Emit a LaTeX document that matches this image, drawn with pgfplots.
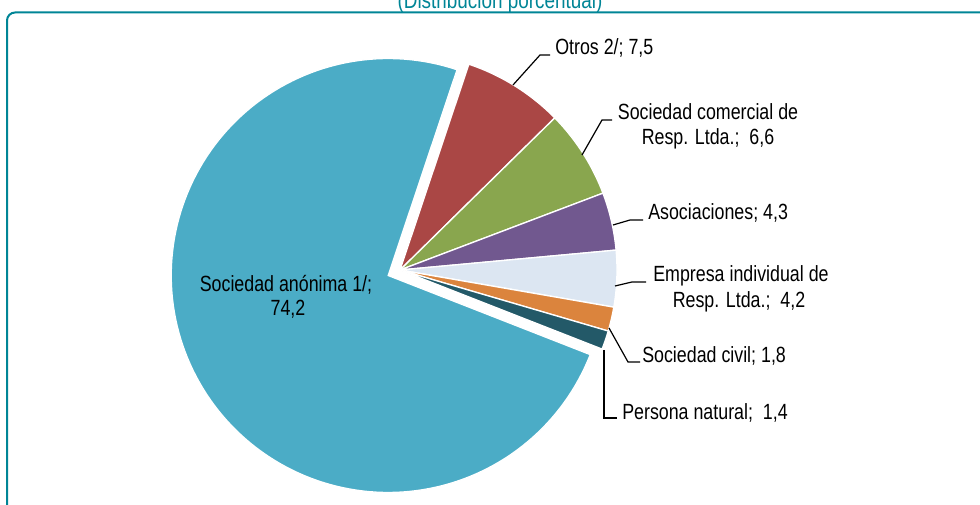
\documentclass[border=0pt]{standalone}
\usepackage{fontspec}
\setmainfont{Liberation Sans}[FakeStretch=0.81]
\usepackage{pgfplots}
\pgfplotsset{compat=1.18}
\definecolor{cBlue}{RGB}{75,172,198}
\definecolor{cRed}{RGB}{170,71,69}
\definecolor{cGreen}{RGB}{137,166,78}
\definecolor{cPurple}{RGB}{113,88,143}
\definecolor{cLight}{RGB}{220,230,242}
\definecolor{cOrange}{RGB}{219,132,61}
\definecolor{cDark}{RGB}{35,89,104}
\definecolor{cTeal}{RGB}{0,133,150}
\newcommand\lbl{\fontsize{16.5}{20}\selectfont}
% #1 colour, #2 cumulative share before slice (%), #3 share (%), #4/#5 centre
\newcommand{\pieslice}[5]{%
  \pgfmathsetmacro{\aS}{71.5-3.6*#2}%
  \pgfmathsetmacro{\aE}{71.5-3.6*(#2+#3)}%
  \edef\temp{\noexpand\addplot[fill=#1, draw=white, line width=1pt, domain=\aE:\aS, samples=150, variable=\noexpand\t] ({#4+217*cos(\noexpand\t)},{#5+217*sin(\noexpand\t)}) -- (axis cs:#4,#5) -- cycle;}%
  \temp
}
\begin{document}
\begin{tikzpicture}
\begin{axis}[name=ax, width=735pt, height=378.75pt, scale only axis,
  xmin=0, xmax=980, ymin=0, ymax=505, hide axis, clip=false]
% frame and title
\draw[cTeal, line width=1.5pt, rounded corners=6pt] (7,-40) -- (7,492.5) -- (1020,492.5);
\node[anchor=base, text=cTeal, inner sep=0, font=\fontsize{17.5}{20}\selectfont] at (500,496.7) {(Distribución porcentual)};
% slices: value shares
\pieslice{cBlue}{25.8}{74.2}{388.2}{229.5}
\pieslice{cRed}{0}{7.5}{400}{235}
\pieslice{cGreen}{7.5}{6.6}{400}{235}
\pieslice{cPurple}{14.1}{4.3}{400}{235}
\pieslice{cLight}{18.4}{4.2}{400}{235}
\pieslice{cOrange}{22.6}{1.8}{400}{235}
\pieslice{cDark}{24.4}{1.4}{400}{235}
% leader lines
\draw[black, line width=0.9pt] (513,420) -- (540,450) -- (550,450);
\draw[black, line width=0.9pt] (582,350) -- (602,385) -- (612,385);
\draw[black, line width=0.9pt] (613,280) -- (630,285) -- (643,285);
\draw[black, line width=0.9pt] (615,219) -- (632,223) -- (646,223);
\draw[black, line width=0.9pt] (609,177) -- (628,143) -- (640,143);
\draw[black, line width=0.9pt] (604,155) -- (604,87) -- (617,87);
% labels
\node[anchor=base west, inner sep=0, font=\lbl] at (555,450) {Otros 2/; 7,5};
\node[anchor=base, inner sep=0, font=\lbl] at (708,385.5) {Sociedad comercial de};
\node[anchor=base, inner sep=0, font=\lbl] at (708,360) {Resp. Ltda.;\ \ 6,6};
\node[anchor=base west, inner sep=0, font=\lbl] at (648,285.7) {Asociaciones; 4,3};
\node[anchor=base, inner sep=0, font=\lbl] at (741,223.3) {Empresa individual de};
\node[anchor=base, inner sep=0, font=\lbl] at (739,197.7) {Resp. Ltda.;\ \ 4,2};
\node[anchor=base west, inner sep=0, font=\lbl] at (642,142.7) {Sociedad civil; 1,8};
\node[anchor=base west, inner sep=0, font=\lbl] at (622,85.7) {Persona natural;\ \ 1,4};
\node[anchor=base, inner sep=0, font=\lbl] at (286,213.3) {Sociedad anónima 1/;};
\node[anchor=base, inner sep=0, font=\lbl] at (288,189) {74,2};
\end{axis}
\pgfresetboundingbox
\path[use as bounding box] (ax.south west) rectangle (ax.north east);
\end{tikzpicture}
\end{document}
